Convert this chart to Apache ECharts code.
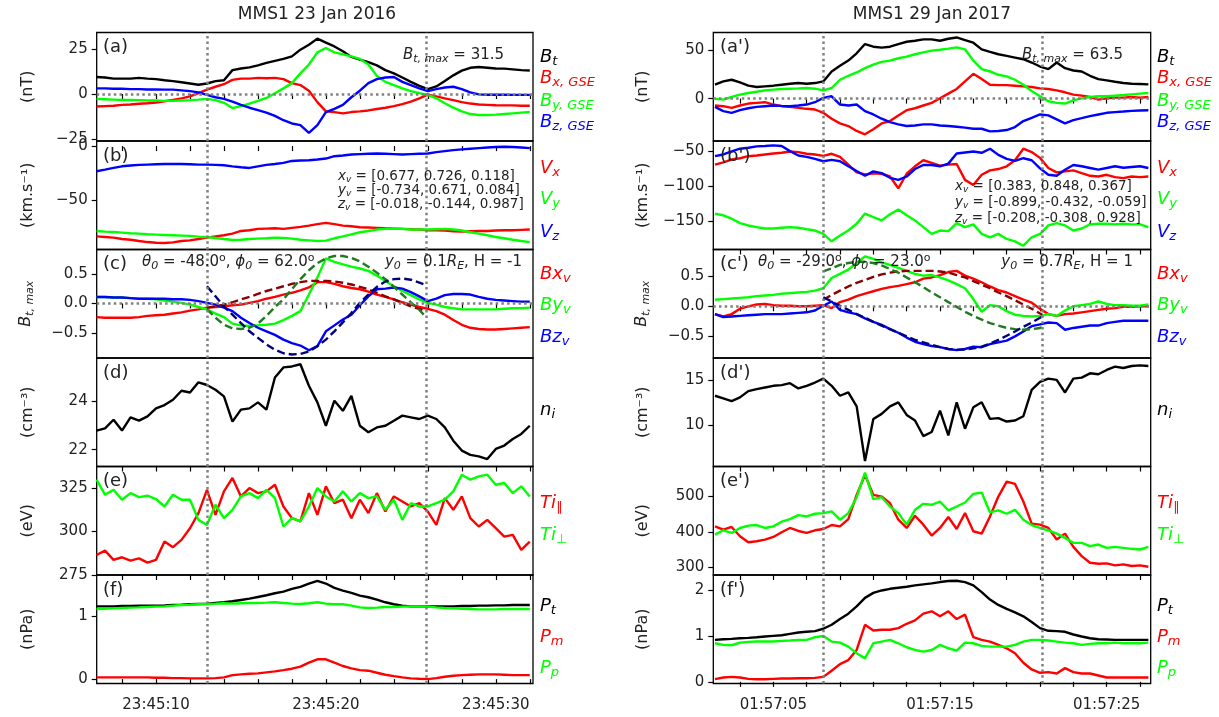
<!DOCTYPE html>
<html>
<head>
<meta charset="utf-8">
<script src="https://cdn.jsdelivr.net/npm/echarts@6/dist/echarts.min.js"></script>
<style>
  html, body { margin: 0; padding: 0; background: #fff; }
  #chart { width: 1219px; height: 717px; }
</style>
</head>
<body>
<div id="chart"></div>
<script>
// ---------- data (seconds after 23:45:00 / 01:57:00) ----------
const tL = [6.5,7,7.5,8,8.5,9,9.5,10,10.5,11,11.5,12,12.5,13,13.5,14,14.5,15,15.5,16,16.5,17,17.5,18,18.5,19,19.5,20,20.5,21,21.5,22,22.5,23,23.5,24,24.5,25,25.5,26,26.5,27,27.5,28,28.5,29,29.5,30,30.5,31,31.5,32];
const tR = [1.5,2,2.5,3,3.5,4,4.5,5,5.5,6,6.5,7,7.5,8,8.5,9,9.5,10,10.5,11,11.5,12,12.5,13,13.5,14,14.5,15,15.5,16,16.5,17,17.5,18,18.5,19,19.5,20,20.5,21,21.5,22,22.5,23,23.5,24,24.5,25,25.5,26,26.5,27,27.5];
const tModL = [13,13.5,14,14.5,15,15.5,16,16.5,17,17.5,18,18.5,19,19.5,20,20.5,21,21.5,22,22.5,23,23.5,24,24.5,25,25.5,25.9];
const tModR = [8,8.5,9,9.5,10,10.5,11,11.5,12,12.5,13,13.5,14,14.5,15,15.5,16,16.5,17,17.5,18,18.5,19,19.5,20,20.5,21,21.14];

const eventsL = [13.02, 25.88];
const eventsR = [8.0, 21.14];

// 23 Jan 2016
const btL = [9.4,9.1,8.5,8.5,8.5,8.9,8.5,8.2,7.6,7.1,6.5,5.8,5.1,5.8,7.1,7.6,13.2,14.1,14.7,15.8,17.2,18.3,19.4,20.8,24.5,27.2,30.6,28.4,26.3,23.6,20.5,19.0,17.6,15.8,13.2,11.4,9.1,6.7,4.5,2.7,4.2,7.2,10.3,12.9,14.5,14.9,14.5,14.1,14.0,13.6,13.2,13.0];
const bxL = [-6.9,-6.7,-6.5,-6.0,-5.8,-5.4,-5.1,-4.7,-4.0,-3.3,-2.4,-1.3,0.5,2.4,4.0,5.4,7.8,8.5,8.5,8.9,8.7,8.9,8.2,6.0,4.9,1.8,-4.5,-9.6,-10.0,-10.7,-10.0,-9.6,-9.1,-8.3,-7.6,-6.7,-5.6,-4.2,-2.4,-0.4,-1.3,-2.4,-3.4,-4.5,-5.3,-5.8,-6.0,-6.2,-6.3,-6.3,-6.5,-6.5];
const byL = [-2.7,-2.9,-3.1,-3.3,-3.3,-3.4,-3.6,-3.6,-3.8,-3.8,-3.6,-3.4,-3.1,-2.7,-3.4,-4.9,-7.8,-6.7,-5.3,-3.8,-2.2,0.4,3.1,6.0,11.4,16.3,23.0,25.4,23.0,21.9,20.8,19.4,16.3,10.0,6.7,4.9,3.1,1.6,0.5,-0.5,-2.4,-5.1,-7.6,-9.6,-11.1,-11.6,-11.6,-11.4,-11.1,-10.7,-10.3,-10.0];
const bzL = [3.1,3.1,2.9,2.9,2.7,2.7,2.5,2.5,2.4,2.4,2.0,1.6,0.9,-0.5,-1.8,-2.7,-4.2,-6.0,-7.6,-8.9,-10.3,-12.1,-14.5,-16.3,-17.2,-21.5,-17.2,-10.0,-8.2,-6.0,-1.8,1.8,6.0,8.2,9.1,9.4,6.7,4.9,3.1,1.6,2.7,3.6,4.0,2.7,0.9,-0.2,-0.4,-0.4,-0.4,-0.5,-0.5,-0.5];
const vxL = [-83.8,-84.4,-85.0,-86.3,-86.9,-88.1,-89.1,-89.7,-90.0,-89.4,-88.1,-87.5,-86.3,-85.0,-83.8,-82.8,-81.3,-78.8,-78.1,-76.9,-76.6,-76.3,-76.9,-75.9,-75.0,-73.8,-72.5,-71.3,-72.5,-73.8,-74.4,-75.3,-75.6,-75.9,-76.3,-76.6,-76.9,-77.2,-77.5,-78.1,-78.1,-78.4,-79.1,-79.4,-79.1,-78.8,-78.8,-78.4,-78.1,-78.1,-77.8,-77.5];
const vyL = [-78.8,-79.4,-79.7,-80.3,-80.9,-81.3,-81.9,-82.2,-82.5,-82.8,-83.1,-83.4,-84.1,-84.4,-85.3,-86.3,-87.2,-86.9,-86.3,-85.9,-85.6,-85.0,-85.3,-85.9,-86.9,-87.5,-88.1,-87.8,-85.6,-83.8,-81.9,-80.0,-78.8,-77.5,-76.9,-76.6,-76.9,-77.5,-77.5,-77.5,-77.2,-76.9,-77.5,-78.4,-80.0,-81.3,-82.8,-84.4,-85.6,-86.9,-88.1,-89.1];
const vzL = [-23.4,-21.9,-20.3,-18.8,-18.1,-17.5,-17.2,-16.9,-16.6,-16.6,-16.6,-16.9,-17.2,-17.2,-17.5,-17.8,-18.8,-19.7,-20.3,-18.8,-17.5,-16.6,-15.6,-13.8,-13.4,-13.1,-12.5,-11.6,-9.4,-8.8,-7.8,-7.5,-7.2,-6.9,-7.2,-7.5,-7.8,-7.5,-7.2,-6.9,-5.6,-4.7,-3.8,-3.1,-2.5,-1.9,-1.3,-0.9,-0.6,-0.9,-1.3,-1.9];
const bxvL = [-0.23,-0.24,-0.24,-0.24,-0.24,-0.23,-0.21,-0.20,-0.19,-0.17,-0.15,-0.12,-0.10,-0.07,-0.06,-0.05,-0.03,-0.02,0.01,0.04,0.08,0.11,0.15,0.18,0.22,0.27,0.36,0.36,0.33,0.29,0.26,0.24,0.20,0.15,0.11,0.07,0.02,-0.02,-0.06,-0.09,-0.13,-0.19,-0.28,-0.36,-0.41,-0.43,-0.44,-0.44,-0.43,-0.42,-0.41,-0.40];
const byvL = [0.11,0.11,0.10,0.10,0.09,0.08,0.08,0.07,0.05,0.03,0.01,-0.02,-0.06,-0.10,-0.17,-0.23,-0.34,-0.37,-0.38,-0.37,-0.36,-0.34,-0.28,-0.21,-0.13,0.15,0.44,0.76,0.70,0.66,0.62,0.59,0.55,0.47,0.38,0.29,0.21,0.14,0.07,0.01,-0.02,-0.06,-0.08,-0.10,-0.10,-0.10,-0.10,-0.10,-0.09,-0.08,-0.08,-0.07];
const bzvL = [0.11,0.11,0.10,0.10,0.09,0.08,0.08,0.08,0.08,0.07,0.07,0.06,0.04,0.01,-0.02,-0.07,-0.13,-0.24,-0.33,-0.41,-0.47,-0.53,-0.61,-0.67,-0.71,-0.79,-0.72,-0.47,-0.37,-0.27,-0.19,-0.03,0.12,0.24,0.25,0.27,0.25,0.19,0.12,0.04,0.08,0.14,0.16,0.16,0.15,0.11,0.08,0.06,0.05,0.04,0.03,0.03];
const mxL = [-0.07,-0.05,-0.02,0.02,0.07,0.11,0.16,0.21,0.25,0.29,0.33,0.36,0.38,0.38,0.38,0.37,0.35,0.32,0.28,0.24,0.18,0.12,0.07,0.01,-0.05,-0.09,-0.13];
const myL = [-0.10,-0.24,-0.36,-0.42,-0.43,-0.41,-0.34,-0.21,-0.06,0.07,0.24,0.41,0.56,0.68,0.76,0.80,0.80,0.77,0.71,0.62,0.52,0.41,0.28,0.15,0.02,-0.11,-0.23];
const mzL = [0.29,0.12,-0.05,-0.19,-0.33,-0.47,-0.58,-0.69,-0.78,-0.84,-0.86,-0.85,-0.81,-0.72,-0.61,-0.47,-0.32,-0.16,0.01,0.15,0.28,0.37,0.41,0.42,0.40,0.35,0.31];
const niL = [22.79,22.88,23.24,22.79,23.34,23.20,23.38,23.71,23.85,24.07,24.44,24.37,24.79,24.68,24.48,24.21,23.16,23.66,23.71,23.96,23.66,24.99,25.41,25.45,25.54,24.65,23.96,22.99,24.03,23.61,24.23,22.99,22.72,22.92,22.99,23.20,23.41,23.34,23.27,23.41,23.27,22.92,22.37,21.96,21.78,21.72,21.61,22.03,22.17,22.44,22.65,22.99];
const tparL = [286.5,289.0,283.7,285.2,283.3,284.6,282.1,283.7,294.2,291.0,295.2,301.9,310.6,324.0,309.6,323.1,330.8,320.2,325.0,322.1,323.1,326.9,314.4,307.7,305.8,322.1,309.6,326.0,316.3,318.3,307.7,318.3,310.6,322.1,311.5,320.2,317.3,314.4,316.3,311.5,303.8,319.2,312.5,320.2,307.7,302.9,306.7,301.9,297.1,298.1,289.4,294.2];
const tperL = [329.8,321.2,324.0,318.3,322.1,319.8,320.6,318.7,314.4,321.2,318.3,318.3,306.7,303.8,315.4,307.7,312.5,320.2,322.1,319.2,324.0,319.2,302.9,307.7,305.8,314.4,325.0,320.2,317.3,323.1,317.3,322.1,319.2,320.2,312.5,318.3,306.7,316.3,314.4,314.4,316.3,318.3,323.1,332.7,329.8,331.7,332.7,326.9,327.9,322.1,326.0,320.2];
const ptL = [1.160,1.160,1.160,1.166,1.166,1.171,1.171,1.171,1.176,1.182,1.187,1.193,1.198,1.203,1.214,1.225,1.241,1.262,1.283,1.310,1.337,1.369,1.396,1.439,1.471,1.524,1.567,1.524,1.455,1.412,1.374,1.332,1.305,1.267,1.225,1.193,1.171,1.160,1.160,1.160,1.160,1.160,1.160,1.166,1.166,1.171,1.171,1.176,1.176,1.182,1.182,1.182];
const pmL = [0.027,0.027,0.027,0.027,0.027,0.027,0.027,0.021,0.021,0.016,0.016,0.011,0.011,0.011,0.016,0.027,0.064,0.075,0.086,0.091,0.107,0.123,0.144,0.166,0.198,0.262,0.316,0.316,0.262,0.209,0.171,0.144,0.134,0.102,0.070,0.048,0.027,0.011,0.005,0.000,0.016,0.037,0.053,0.064,0.070,0.075,0.075,0.075,0.070,0.064,0.064,0.064];
const ppL = [1.118,1.123,1.128,1.134,1.139,1.144,1.150,1.155,1.160,1.171,1.182,1.187,1.193,1.198,1.203,1.209,1.203,1.209,1.214,1.214,1.219,1.225,1.214,1.203,1.198,1.209,1.225,1.203,1.193,1.193,1.171,1.144,1.134,1.139,1.150,1.150,1.155,1.160,1.160,1.155,1.144,1.134,1.128,1.123,1.118,1.112,1.112,1.112,1.118,1.118,1.118,1.118];

// 29 Jan 2017
const btR = [14.3,17.7,19.4,16.7,13.3,11.9,12.6,13.3,14.3,15.3,16.0,15.3,16.0,17.7,27.9,33.7,39.1,46.6,56.1,53.4,52.4,53.4,56.1,58.5,59.5,60.9,60.9,59.5,61.6,62.9,60.2,57.5,50.7,48.0,45.6,43.9,42.2,40.5,37.1,33.0,30.3,37.1,31.3,28.9,27.9,23.5,20.1,18.7,17.3,16.0,15.3,15.0,14.6];
const bxR = [-7.1,-7.8,-9.5,-7.1,-5.1,-4.4,-3.7,-6.1,-7.8,-8.5,-9.5,-10.5,-11.2,-14.6,-20.7,-25.5,-28.2,-33.3,-36.7,-31.6,-25.5,-23.1,-17.3,-11.9,-9.9,-7.1,-4.4,0.3,5.1,9.9,17.7,25.5,20.1,14.3,13.9,13.9,13.3,12.6,11.9,10.5,9.9,8.5,6.5,4.1,3.1,1.7,-1.0,0.3,1.0,1.0,1.7,1.0,1.7];
const byR = [-0.3,-1.0,1.7,4.1,5.8,7.1,8.5,9.2,9.9,10.2,10.5,10.9,10.2,8.5,10.9,19.4,23.5,26.9,31.3,35.0,37.8,39.1,41.5,43.2,45.6,47.6,49.3,50.3,51.4,52.7,50.7,39.1,30.3,27.9,24.5,22.8,19.4,14.3,7.8,2.4,-2.7,-4.4,-5.1,-1.7,0.3,1.7,2.4,2.4,3.1,3.7,4.4,5.1,5.8];
const bzR = [-8.5,-12.9,-14.6,-11.9,-9.9,-8.5,-7.8,-7.1,-7.5,-7.8,-7.1,-6.1,-3.7,0.7,2.4,-6.1,-7.1,-6.1,-12.9,-16.3,-20.7,-24.1,-26.5,-28.2,-27.6,-26.5,-26.5,-27.6,-28.2,-28.9,-29.9,-31.0,-31.0,-33.7,-33.3,-32.3,-29.3,-23.1,-19.7,-16.3,-17.3,-21.4,-25.5,-22.1,-20.1,-18.0,-16.3,-14.6,-13.9,-13.3,-12.6,-12.2,-11.9];
const vxR = [-69.2,-65.9,-62.0,-60.1,-57.2,-56.3,-54.8,-53.4,-52.4,-50.5,-51.4,-53.8,-54.8,-56.7,-53.8,-58.2,-69.2,-80.3,-83.2,-81.7,-82.2,-86.1,-102.9,-82.2,-71.6,-63.0,-66.8,-70.7,-69.2,-68.3,-90.9,-98.1,-83.7,-77.4,-75.5,-71.6,-63.0,-46.6,-51.4,-59.6,-74.0,-80.3,-78.8,-77.4,-81.3,-85.1,-86.1,-83.7,-87.0,-88.5,-86.1,-87.0,-86.1];
const vyR = [-138.9,-141.3,-146.2,-152.4,-155.8,-158.2,-160.1,-160.1,-159.1,-158.2,-159.1,-161.1,-163.0,-167.8,-178.4,-170.2,-163.0,-153.4,-138.9,-143.8,-148.6,-139.9,-133.2,-141.3,-148.6,-158.2,-167.8,-163.0,-163.9,-152.4,-158.2,-154.3,-167.8,-172.6,-167.8,-175.0,-178.4,-184.6,-172.6,-167.8,-155.8,-152.4,-155.8,-163.0,-160.1,-154.3,-153.4,-153.4,-154.3,-153.4,-154.3,-154.3,-158.2];
const vzR = [-57.2,-54.8,-50.5,-46.6,-45.2,-43.3,-42.8,-41.8,-42.8,-50.0,-56.3,-58.2,-61.1,-64.4,-62.5,-64.4,-71.6,-78.4,-85.1,-78.8,-81.3,-88.0,-90.9,-86.1,-75.5,-69.7,-69.7,-71.6,-67.8,-53.4,-51.9,-50.5,-52.4,-46.6,-55.3,-61.1,-63.9,-60.1,-63.0,-74.5,-83.7,-85.1,-76.4,-69.7,-71.6,-74.0,-76.4,-74.0,-71.6,-73.6,-72.6,-71.6,-74.0];
const bxvR = [-0.13,-0.17,-0.13,-0.04,0.00,0.03,0.04,0.02,0.01,0.01,0.00,0.00,0.01,0.02,-0.03,0.07,0.11,0.17,0.21,0.25,0.29,0.32,0.34,0.37,0.40,0.46,0.48,0.52,0.57,0.59,0.51,0.46,0.40,0.33,0.27,0.23,0.17,0.11,0.06,-0.04,-0.13,-0.16,-0.13,-0.12,-0.10,-0.08,-0.06,-0.04,-0.03,-0.01,-0.01,0.00,0.00];
const byvR = [0.11,0.12,0.13,0.14,0.15,0.17,0.18,0.19,0.21,0.22,0.23,0.24,0.26,0.30,0.47,0.54,0.61,0.72,0.83,0.79,0.73,0.69,0.64,0.59,0.54,0.51,0.52,0.48,0.43,0.37,0.30,0.12,-0.09,0.02,0.00,-0.08,-0.14,-0.16,-0.17,-0.16,-0.13,-0.16,-0.07,0.00,0.02,0.04,0.08,0.04,0.02,0.02,0.01,0.01,0.03];
const bzvR = [-0.13,-0.18,-0.17,-0.16,-0.15,-0.14,-0.13,-0.13,-0.13,-0.12,-0.11,-0.10,-0.07,0.01,0.08,-0.06,-0.10,-0.13,-0.20,-0.26,-0.31,-0.38,-0.44,-0.52,-0.59,-0.63,-0.66,-0.68,-0.71,-0.73,-0.71,-0.67,-0.68,-0.63,-0.60,-0.57,-0.50,-0.42,-0.33,-0.30,-0.27,-0.28,-0.39,-0.36,-0.34,-0.32,-0.32,-0.28,-0.26,-0.24,-0.24,-0.24,-0.24];
const mxR = [0.11,0.19,0.26,0.33,0.39,0.44,0.49,0.53,0.56,0.58,0.59,0.59,0.59,0.59,0.58,0.56,0.52,0.48,0.42,0.36,0.30,0.23,0.17,0.10,0.03,-0.04,-0.12,-0.14];
const myR = [0.58,0.63,0.69,0.72,0.74,0.74,0.72,0.68,0.62,0.56,0.48,0.40,0.32,0.23,0.15,0.07,-0.01,-0.09,-0.16,-0.22,-0.28,-0.32,-0.36,-0.38,-0.39,-0.38,-0.36,-0.34];
const mzR = [0.15,0.08,0.01,-0.06,-0.13,-0.19,-0.26,-0.32,-0.38,-0.44,-0.50,-0.56,-0.60,-0.64,-0.68,-0.71,-0.72,-0.72,-0.70,-0.67,-0.62,-0.56,-0.49,-0.42,-0.34,-0.27,-0.19,-0.17];
const niR = [13.26,12.97,12.68,13.08,13.77,13.99,14.17,14.35,14.42,14.64,14.06,14.35,14.71,15.14,14.35,13.26,13.62,12.10,6.1,10.72,11.27,12.10,12.54,11.16,10.54,8.84,9.28,11.63,8.91,12.54,9.64,11.99,12.54,10.72,10.80,10.43,10.54,11.01,13.91,14.78,15.14,15.00,13.62,15.14,15.25,15.72,15.62,16.09,16.45,16.30,16.52,16.59,16.52];
const tparR = [415.8,406.5,414.0,387.9,371.2,374.0,378.6,386.0,399.1,411.2,402.8,397.2,404.7,408.4,419.5,415.8,436.3,504.2,560.0,504.2,499.5,480.9,434.4,411.2,445.6,420.5,389.8,411.2,441.9,408.4,453.0,401.9,395.3,443.7,499.5,541.4,534.9,485.6,423.3,420.5,411.2,378.6,395.3,358.1,332.1,313.5,310.7,311.6,306.0,308.8,304.2,306.0,302.3];
const tperR = [392.6,404.7,397.2,411.2,417.7,419.5,411.2,415.8,428.8,436.3,447.4,443.7,451.2,453.0,457.7,434.4,453.0,497.7,566.5,492.1,497.7,471.6,453.0,420.5,462.3,479.1,476.3,485.6,460.5,471.6,482.8,507.0,510.7,454.9,460.5,451.2,462.3,434.4,419.5,411.2,404.7,395.3,383.3,369.3,369.3,360.0,364.7,355.3,358.1,355.3,352.6,350.7,358.1];
const ptR = [0.916,0.930,0.938,0.952,0.960,0.974,0.989,1.004,1.018,1.048,1.077,1.092,1.106,1.158,1.245,1.370,1.487,1.648,1.832,1.941,1.993,2.029,2.051,2.073,2.103,2.125,2.147,2.176,2.198,2.205,2.176,2.103,1.956,1.795,1.678,1.590,1.516,1.429,1.304,1.172,1.114,1.106,1.092,1.033,0.989,0.952,0.930,0.923,0.916,0.916,0.916,0.916,0.916];
const pmR = [0.059,0.095,0.110,0.095,0.066,0.059,0.059,0.066,0.073,0.073,0.081,0.081,0.088,0.110,0.242,0.388,0.476,0.696,1.245,1.121,1.136,1.136,1.172,1.267,1.341,1.487,1.538,1.429,1.538,1.370,1.465,0.974,0.916,0.879,0.806,0.733,0.623,0.418,0.271,0.198,0.212,0.183,0.300,0.212,0.183,0.183,0.139,0.095,0.095,0.095,0.095,0.095,0.095];
const ppR = [0.842,0.806,0.799,0.857,0.872,0.879,0.879,0.879,0.894,0.901,0.916,0.916,0.974,1.0,0.879,0.857,0.769,0.623,0.513,0.842,0.879,0.916,0.842,0.755,0.696,0.659,0.696,0.806,0.733,0.681,0.857,0.842,0.784,0.769,0.769,0.769,0.806,0.879,0.916,0.916,0.901,0.879,0.857,0.842,0.806,0.828,0.842,0.842,0.857,0.842,0.842,0.842,0.857];

// tick labels
const xMinorL = [8,10,12,14,16,18,20,22,24,26,28,30,32];
const xMajorL = [10, 20, 30];
const xMajorLabelsL = ['23:45:10', '23:45:20', '23:45:30'];
const xMinorR = [3,5,7,9,11,13,15,17,19,21,23,25,27];
const xMajorR = [5, 15, 25];
const xMajorLabelsR = ['01:57:05', '01:57:15', '01:57:25'];
const yTicksL = [[-25, 0, 25], [-50, 0], [-0.5, 0, 0.5], [22, 24], [275, 300, 325], [0, 1]];
const yTicksR = [[0, 50], [-150, -100, -50], [-0.5, 0, 0.5], [10, 15], [300, 400, 500], [0, 1, 2]];
const yDecimals = [0, 0, 1, 0, 0, 0];

// ---------- layout ----------
const FONT = 'DejaVu Sans';
const C = { r: '#ff0000', g: '#00ff00', b: '#0000ff', k: '#000000', dr: '#8b0000', dg: '#1e7b1e', db: '#00007f' };
const colLeft = [96.7, 713.3];
const colWidth = [436.3, 437.4];
const xRange = [[6.51, 32.19], [1.4, 27.64]];
const TOP = 32.5, H = 108.5;
const yRange = [
  [[-26, 34], [-96, 4.7], [-0.92, 0.91], [21.3, 25.8], [275, 337.4], [-0.07, 1.66]],
  [[-43.6, 68], [-190, -35.6], [-0.86, 0.945], [5.5, 17.4], [279, 584], [-0.035, 2.33]]
];
const yNames = ['(nT)', '(km.s\u207B\u00B9)', '{i|B}{s|t, max}', '(cm\u207B\u00B3)', '(eV)', '(nPa)'];

function rich(size, color) {
  const sub = Math.round(size * 0.7);
  const pad = Math.round(size * 0.5);
  return {
    i: { fontSize: size, fontStyle: 'italic', fontFamily: FONT, fill: color, color: color },
    n: { fontSize: size, fontFamily: FONT, fill: color, color: color },
    s: { fontSize: sub, fontStyle: 'italic', fontFamily: FONT, fill: color, color: color, padding: [pad, 0, 0, 0] },
    r: { fontSize: sub, fontFamily: FONT, fill: color, color: color, padding: [pad, 0, 0, 0] },
    u: { fontSize: sub, fontFamily: FONT, fill: color, color: color, padding: [0, 0, pad, 0] }
  };
}

function fmt(v, d) {
  const s = Math.abs(v).toFixed(d);
  return (v < 0 ? '\u2212' : '') + s;
}

const grids = [], xAxes = [], yAxes = [], series = [];
for (let c = 0; c < 2; c++) {
  for (let r = 0; r < 6; r++) {
    const gi = c * 6 + r;
    grids.push({ left: colLeft[c], width: colWidth[c], top: TOP + r * H, height: H, show: true,
      borderColor: '#000', borderWidth: 1.3, backgroundColor: 'transparent' });
    const minor = c === 0 ? xMinorL : xMinorR;
    const major = c === 0 ? xMajorL : xMajorR;
    const majorLab = c === 0 ? xMajorLabelsL : xMajorLabelsR;
    xAxes.push({
      gridIndex: gi, type: 'value', min: xRange[c][0], max: xRange[c][1],
      axisLine: { show: false }, splitLine: { show: false },
      axisTick: { show: true, customValues: minor, length: 5, lineStyle: { color: '#000', width: 1.2 } },
      axisLabel: { show: r === 5, customValues: major, margin: 14, fontSize: 15, fontFamily: FONT, color: '#222',
        formatter: v => majorLab[major.indexOf(Math.round(v))] || '' }
    });
    const ticks = (c === 0 ? yTicksL : yTicksR)[r];
    yAxes.push({
      gridIndex: gi, type: 'value', min: yRange[c][r][0], max: yRange[c][r][1],
      axisLine: { show: false }, splitLine: { show: false },
      axisTick: { show: true, customValues: ticks, length: 5, lineStyle: { color: '#000', width: 1.2 } },
      axisLabel: { customValues: ticks, margin: 9, fontSize: 15, fontFamily: FONT, color: '#222',
        formatter: v => fmt(v, yDecimals[r]) },
      name: yNames[r], nameLocation: 'middle', nameRotate: 90, nameGap: c === 0 ? 61 : 62,
      nameMoveOverlap: false,
      nameTextStyle: { fontSize: 16, fontFamily: FONT, color: '#222', rich: rich(16, '#222') }
    });
  }
}

function line(gi, t, v, color, dashed) {
  return {
    type: 'line', xAxisIndex: gi, yAxisIndex: gi,
    data: t.map((x, i) => [x, v[i]]),
    showSymbol: false, symbol: 'none', silent: true, animation: false,
    lineStyle: { color: color, width: 2.4, type: dashed ? [8, 4] : 'solid' },
    itemStyle: { color: color }
  };
}

const panelSeries = [
  [[tL, btL, C.k], [tL, bxL, C.r], [tL, byL, C.g], [tL, bzL, C.b]],
  [[tL, vxL, C.r], [tL, vyL, C.g], [tL, vzL, C.b]],
  [[tL, bxvL, C.r], [tL, byvL, C.g], [tL, bzvL, C.b], [tModL, mxL, C.dr, 1], [tModL, myL, C.dg, 1], [tModL, mzL, C.db, 1]],
  [[tL, niL, C.k]],
  [[tL, tparL, C.r], [tL, tperL, C.g]],
  [[tL, ptL, C.k], [tL, pmL, C.r], [tL, ppL, C.g]],
  [[tR, btR, C.k], [tR, bxR, C.r], [tR, byR, C.g], [tR, bzR, C.b]],
  [[tR, vxR, C.r], [tR, vyR, C.g], [tR, vzR, C.b]],
  [[tR, bxvR, C.r], [tR, byvR, C.g], [tR, bzvR, C.b], [tModR, mxR, C.dr, 1], [tModR, myR, C.dg, 1], [tModR, mzR, C.db, 1]],
  [[tR, niR, C.k]],
  [[tR, tparR, C.r], [tR, tperR, C.g]],
  [[tR, ptR, C.k], [tR, pmR, C.r], [tR, ppR, C.g]]
];

panelSeries.forEach((list, gi) => {
  const events = gi < 6 ? eventsL : eventsR;
  const r = gi % 6;
  list.forEach((s, k) => {
    const ser = line(gi, s[0], s[1], s[2], s[3]);
    if (k === 0) {
      const md = events.map(x => ({ xAxis: x }));
      if (r === 0 || r === 2) md.push({ yAxis: 0 });
      ser.markLine = { silent: true, symbol: ['none', 'none'], animation: false, label: { show: false },
        lineStyle: { color: '#808080', type: [2.5, 3.2], width: 2.5, opacity: 1 }, data: md };
    }
    series.push(ser);
  });
});

// ---------- texts ----------
function txt(x, y, text, size, color, align, useRich) {
  const style = { text: text, x: x, y: y, fill: color || '#222', font: size + 'px "' + FONT + '"',
    textAlign: align || 'left', textVerticalAlign: 'middle' };
  if (useRich) style.rich = rich(size, color || '#222');
  return { type: 'text', silent: true, z: 10, style: style };
}

const graphics = [
  txt(317, 15, 'MMS1 23 Jan 2016', 17, '#222', 'center'),
  txt(932, 15, 'MMS1 29 Jan 2017', 17, '#222', 'center')
];
const letters = ['a', 'b', 'c', 'd', 'e', 'f'];
letters.forEach((l, r) => {
  graphics.push(txt(103, TOP + r * H + 15, '(' + l + ')', 18));
  graphics.push(txt(720, TOP + r * H + 15, '(' + l + '\')', 18));
});

graphics.push(txt(403, 55, '{i|B}{s|t, max}{n| = 31.5}', 15, '#222', 'left', true));
graphics.push(txt(1022, 55, '{i|B}{s|t, max}{n| = 63.5}', 15, '#222', 'left', true));
graphics.push(txt(338, 176, '{i|x}{s|v}{n| = [0.677, 0.726, 0.118]}', 13.5, '#222', 'left', true));
graphics.push(txt(338, 190, '{i|y}{s|v}{n| = [-0.734, 0.671, 0.084]}', 13.5, '#222', 'left', true));
graphics.push(txt(338, 204, '{i|z}{s|v}{n| = [-0.018, -0.144, 0.987]}', 13.5, '#222', 'left', true));
graphics.push(txt(955, 186, '{i|x}{s|v}{n| = [0.383, 0.848, 0.367]}', 13.5, '#222', 'left', true));
graphics.push(txt(955, 202, '{i|y}{s|v}{n| = [-0.899, -0.432, -0.059]}', 13.5, '#222', 'left', true));
graphics.push(txt(955, 218, '{i|z}{s|v}{n| = [-0.208, -0.308, 0.928]}', 13.5, '#222', 'left', true));
graphics.push(txt(142, 262, '{i|\u03B8}{s|0}{n| = -48.0}{u|o}{n|, }{i|\u03D5}{s|0}{n| = 62.0}{u|o}', 15, '#222', 'left', true));
graphics.push(txt(522, 262, '{i|y}{s|0}{n| = 0.1}{i|R}{s|E}{n|, H = -1}', 15, '#222', 'right', true));
graphics.push(txt(758, 262, '{i|\u03B8}{s|0}{n| = -29.0}{u|o}{n|, }{i|\u03D5}{s|0}{n| = 23.0}{u|o}', 15, '#222', 'left', true));
graphics.push(txt(1133, 262, '{i|y}{s|0}{n| = 0.7}{i|R}{s|E}{n|, H = 1}', 15, '#222', 'right', true));

const sideLabels = [
  [57, 'B', 't', C.k], [78, 'B', 'x, GSE', C.r], [101, 'B', 'y, GSE', C.g], [122, 'B', 'z, GSE', C.b],
  [168, 'V', 'x', C.r], [199, 'V', 'y', C.g], [232, 'V', 'z', C.b],
  [274, 'Bx', 'v', C.r], [305, 'By', 'v', C.g], [337, 'Bz', 'v', C.b],
  [410, 'n', 'i', C.k],
  [503, 'Ti', '\u2225', C.r], [535, 'Ti', '\u22A5', C.g],
  [606, 'P', 't', C.k], [637, 'P', 'm', C.r], [668, 'P', 'p', C.g]
];
[540, 1157].forEach(x => {
  sideLabels.forEach(([y, m, s, col]) => {
    const subTag = (s === '\u2225' || s === '\u22A5') ? 'r' : 's';
    graphics.push(txt(x, y, '{i|' + m + '}{' + subTag + '|' + s + '}', 18, col, 'left', true));
  });
});

const chart = echarts.init(document.getElementById('chart'));
chart.setOption({
  animation: false,
  backgroundColor: '#fff',
  grid: grids,
  xAxis: xAxes,
  yAxis: yAxes,
  series: series,
  graphic: graphics
});
</script>
</body>
</html>
